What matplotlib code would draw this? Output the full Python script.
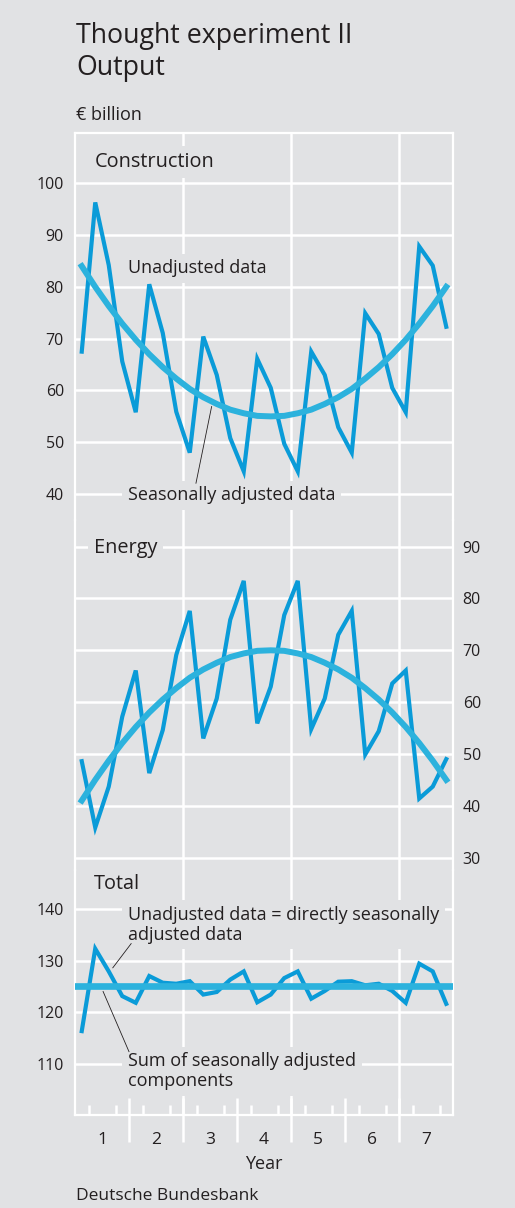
import numpy as np
import matplotlib.pyplot as plt

plt.rcParams['font.family'] = ['Open Sans', 'DejaVu Sans']

BG = '#e1e2e4'
RAW = '#0a9bd8'
SA = '#2cb2dd'
TXT = '#231f20'

year_labels = ['1', '2', '3', '4', '5', '6', '7']

# quarterly values, years 1-7
construction_raw = [67.5, 96.3, 84.2, 65.6, 55.8, 80.5, 71.1, 55.9, 48.0, 70.4, 63.0, 50.8, 44.4, 66.1,
                    60.5, 49.7, 44.4, 67.5, 63.0, 52.9, 48.0, 74.9, 70.9, 60.5, 55.8, 87.8, 84.1, 72.3]
construction_sa = [84.0, 80.0, 76.3, 72.9, 69.8, 67.0, 64.5, 62.3, 60.3, 58.7, 57.4, 56.3, 55.6, 55.1,
                   55.0, 55.1, 55.6, 56.3, 57.4, 58.7, 60.3, 62.3, 64.5, 67.0, 69.8, 72.9, 76.3, 80.0]
energy_raw = [48.6, 35.8, 43.7, 57.2, 66.1, 46.3, 54.6, 69.1, 77.6, 53.0, 60.7, 75.9, 83.4, 55.9,
              63.0, 76.8, 83.4, 54.8, 60.7, 73.0, 77.6, 49.9, 54.4, 63.6, 66.1, 41.4, 43.7, 49.0]
energy_sa = [41.0, 45.0, 48.7, 52.1, 55.2, 58.0, 60.5, 62.7, 64.7, 66.3, 67.6, 68.7, 69.4, 69.9,
             70.0, 69.9, 69.4, 68.7, 67.6, 66.3, 64.7, 62.7, 60.5, 58.0, 55.2, 52.1, 48.7, 45.0]
total_raw = [116.3, 132.3, 127.9, 123.1, 121.8, 127.0, 125.7, 125.5, 126.0, 123.4, 123.9, 126.3, 127.9, 121.9,
             123.4, 126.6, 127.9, 122.6, 124.1, 125.9, 126.0, 125.2, 125.5, 124.1, 121.8, 129.4, 127.9, 121.6]
total_sa_level = 125

construction_ticks = [40, 50, 60, 70, 80, 90, 100]
energy_ticks = [30, 40, 50, 60, 70, 80, 90]
total_ticks = [110, 120, 130, 140]

W, H = 515, 1208
fig = plt.figure(figsize=(W / 100, H / 100), dpi=100, facecolor=BG)


def add_panel(top, bottom):
    # place axes by pixel rows of the reference
    return fig.add_axes([75 / W, 1 - bottom / H, 378 / W, (bottom - top) / H])


ax_c = add_panel(133, 520)
ax_e = add_panel(520, 870)
ax_t = add_panel(870, 1115)

t = np.arange(len(construction_raw)) / 4 + 0.125


def style(ax, ylim, ticks, side='left'):
    ax.set_facecolor('none')
    ax.set_xlim(0, 7)
    ax.set_ylim(*ylim)
    for name, sp in ax.spines.items():
        sp.set_visible(name in ('left', 'right'))
        sp.set_color('white')
        sp.set_linewidth(1.6)
    ax.set_yticks(ticks)
    ax.yaxis.set_ticks_position(side)
    ax.tick_params(axis='y', length=0, pad=8 if side == 'left' else 7,
                   labelsize=11.5, labelcolor=TXT)
    ax.set_xticks([])
    for v in ticks:
        ax.axhline(v, color='white', lw=1.8, zorder=1)
    for x in (2, 4, 6):
        ax.axvline(x, color='white', lw=1.8, zorder=1)


style(ax_c, (35, 109.7), construction_ticks)
style(ax_e, (27.6, 95.15), energy_ticks, side='right')
style(ax_t, (100, 147.6), total_ticks)
ax_c.spines['top'].set_visible(True)
ax_t.spines['bottom'].set_visible(True)

# bottom axis: year labels, quarter ticks, long year separators
ax_t.set_xticks(np.arange(7) + 0.5)
ax_t.set_xticklabels(year_labels)
ax_t.tick_params(axis='x', which='major', length=0, pad=12, labelsize=12.5, labelcolor=TXT)
ax_t.set_xticks([q / 4 for q in range(1, 28) if q % 4], minor=True)
ax_t.tick_params(axis='x', which='minor', direction='in', length=7, width=1.8, color='white')
ax_t.vlines(np.arange(1, 7), -0.11, 0.07, transform=ax_t.get_xaxis_transform(),
            color='white', lw=1.8, clip_on=False)
ax_t.set_xlabel('Year', fontsize=13, color=TXT, labelpad=5)

box = dict(facecolor=BG, edgecolor='none', pad=4)
kw = dict(ha='left', va='center', color=TXT, bbox=box, zorder=3)

# Construction
ax_c.plot(t, construction_raw, color=RAW, lw=3.0, zorder=4, solid_joinstyle='miter')
ax_c.plot(t, construction_sa, color=SA, lw=4.3, zorder=5)
ax_c.text(0.37, 104.1, 'Construction', fontsize=14.3, **kw)
ax_c.text(0.98, 83.6, 'Unadjusted data', fontsize=13, **kw)
ax_c.text(0.98, 39.8, 'Seasonally adjusted data', fontsize=13, **kw)
ax_c.plot([2.24, 2.53], [42.1, 56.9], color=TXT, lw=0.6, zorder=3)

# Energy
ax_e.plot(t, energy_raw, color=RAW, lw=3.0, zorder=4, solid_joinstyle='miter')
ax_e.plot(t, energy_sa, color=SA, lw=4.3, zorder=5)
ax_e.text(0.35, 89.7, 'Energy', fontsize=14.3, **kw)

# Total
ax_t.plot(t, total_raw, color=RAW, lw=3.0, zorder=4, solid_joinstyle='miter')
ax_t.axhline(total_sa_level, color=SA, lw=4.8, zorder=5)
ax_t.text(0.35, 144.9, 'Total', fontsize=14.3, **kw)
ax_t.text(0.98, 137.0, 'Unadjusted data = directly seasonally\nadjusted data',
          fontsize=13, linespacing=1.15, **kw)
ax_t.text(0.98, 108.5, 'Sum of seasonally adjusted\ncomponents',
          fontsize=13, linespacing=1.15, **kw)
ax_t.plot([1.04, 0.70], [133.3, 128.6], color=TXT, lw=0.6, zorder=3)
ax_t.plot([0.52, 1.0], [124.0, 112.3], color=TXT, lw=0.6, zorder=3)

# headings and source
fig.text(76 / W, 1 - 43 / H, 'Thought experiment II', fontsize=19.3, color=TXT, va='baseline')
fig.text(76 / W, 1 - 75 / H, 'Output', fontsize=19.3, color=TXT, va='baseline')
fig.text(76 / W, 1 - 120 / H, '€ billion', fontsize=13, color=TXT, va='baseline')
fig.text(76 / W, 1 - 1200 / H, 'Deutsche Bundesbank', fontsize=12.5, color=TXT, va='baseline')

fig.savefig('out.png', dpi=100, facecolor=BG)
